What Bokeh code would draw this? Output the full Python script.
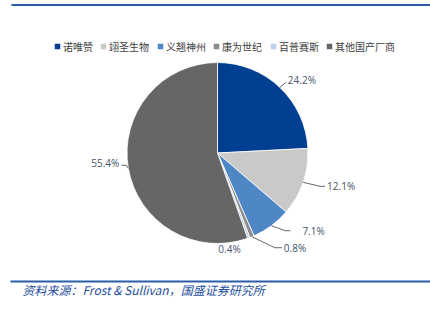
import math
from bokeh.plotting import figure
from bokeh.models import ColumnDataSource, Range1d
from bokeh.core.properties import value
from bokeh.embed import file_html
from bokeh.resources import INLINE

# ---- data ----
companies = ["诺唯赞", "翊圣生物", "义翘神州", "康为世纪", "百普赛斯", "其他国产厂商"]
shares = [24.2, 12.1, 7.1, 0.8, 0.4, 55.4]
colors = ["#003f91", "#c9c9c9", "#4f86c6", "#8c8c8c", "#bcd0ea", "#666666"]
source_text = "资料来源：Frost & Sullivan，国盛证券研究所"

W, H = 430, 313
p = figure(width=W, height=H, output_backend="svg", toolbar_location=None,
           x_range=Range1d(0, W), y_range=Range1d(H, 0), min_border=0)
p.axis.visible = False
p.grid.visible = False
p.outline_line_color = None
p.background_fill_color = "white"
p.border_fill_color = "white"

# ---- pie ----
cx, cy, R = 217, 152.5, 90.5
total = sum(shares)
starts, ends, mids = [], [], []
acc = 0.0
for s in shares:
    a0 = acc / total * 2 * math.pi
    acc += s
    a1 = acc / total * 2 * math.pi
    # clockwise from 12 o'clock on screen
    starts.append(math.pi / 2 - a1)
    ends.append(math.pi / 2 - a0)
    mids.append((a0 + a1) / 2)

src = ColumnDataSource(dict(start=starts, end=ends, color=colors))
p.wedge(x=cx, y=cy, radius=R, start_angle="start", end_angle="end",
        direction="anticlock", fill_color="color", line_color="white",
        line_width=0.8, source=src)

# ---- data labels with leader lines ----
lab_color = "#44546a"
# (leader elbow dx, dy), tail length, text offset, align
layout = [
    ((6, -5), 0, 2, "left"),
    ((17, 4), 5, 2, "left"),
    ((14, 5), 5, 12, "left"),
    ((23, 11), 7, 2, "left"),
    (None, 0, 0, "right"),
    ((-2, -3), -5, -2, "right"),
]
for i, (s, m) in enumerate(zip(shares, mids)):
    ex = cx + R * math.sin(m)
    ey = cy - R * math.cos(m)
    elbow, tail, toff, align = layout[i]
    label = f"{s:.1f}%"
    if elbow is None:
        tx, ty = ex - 8, ey + 11
    else:
        bx, by = ex + elbow[0], ey + elbow[1]
        kx = bx + tail
        p.line([ex, bx, kx], [ey, by, by], line_color="#404040", line_width=0.8)
        tx, ty = kx + toff, by
        if i in (0, 5):
            ty = by - 2
    p.text(x=[tx], y=[ty], text=[label], text_align=align, text_baseline="middle",
           text_font=value("Open Sans"), text_font_size="10px", text_color=lab_color)

# ---- legend ----
legend_x = [54, 100, 157, 213, 270, 326]
ly = 46
for x0, name, c in zip(legend_x, companies, colors):
    p.rect(x=[x0 + 3], y=[ly], width=5.5, height=5.5, fill_color=c, line_color=None)
    p.text(x=[x0 + 8.5], y=[ly], text=[name], text_baseline="middle",
           text_font=value("Noto Sans CJK SC"), text_font_size="10px",
           text_color="#404040")

# ---- header / footer rules ----
p.line([11, W], [4.5, 4.5], line_color="#2b5ca8", line_width=2)
p.line([10, W], [281, 281], line_color="#2b5ca8", line_width=2)
p.text(x=[22], y=[289], text=[source_text], text_baseline="middle",
       text_font=value("Noto Sans CJK SC"), text_font_size="12px",
       text_font_style="italic", text_color="#1f4e9c")

open("out.html", "w").write(file_html(p, INLINE))
